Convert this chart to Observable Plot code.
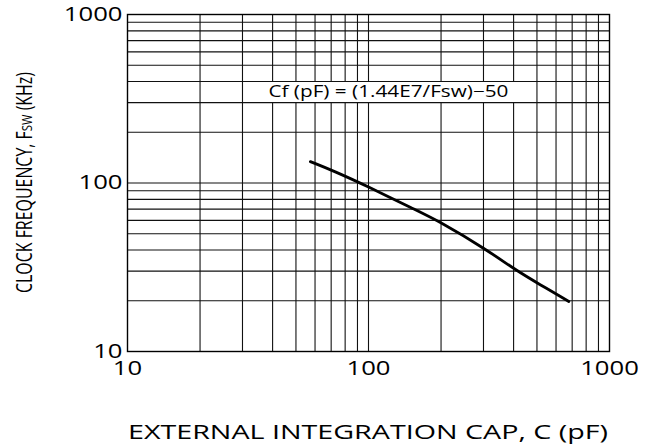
<!DOCTYPE html>
<html>
<head>
<meta charset="utf-8">
<script src="https://cdn.jsdelivr.net/npm/d3@7"></script>
<script src="https://cdn.jsdelivr.net/npm/@observablehq/plot@0.6"></script>
<style>
  html, body { margin: 0; padding: 0; background: #fff; }
</style>
</head>
<body>
<script>
// Curve
const capPF   = [57.4, 71.4, 100, 154, 200, 306, 414, 509, 678];
const freqKHz = [134, 118.3, 95, 70, 58.5, 40.6, 30, 25.2, 19.8];

// Grid and tick values
const xGrid = [20, 30, 40, 50, 60, 70, 80, 90, 100, 200, 300, 400, 500, 600, 700, 800, 900];
const yGrid = [20, 30, 40, 50, 60, 70, 80, 90, 100, 200, 300, 400, 500, 600, 700, 800, 900];
const xTicks = [10, 100, 1000];
const yTicks = [10, 100, 1000];

// Texts
const xTitle = "EXTERNAL INTEGRATION CAP, C (pF)";
const yTitleA = "CLOCK FREQUENCY, F";
const yTitleB = "sw";
const yTitleC = " (KHz)";
const noteText = ["Cf (pF) = (1.44E7/Fsw)\u221250"];
const noteX = [121];
const noteY = [349];

const curve = capPF.map((c, i) => ({c, f: freqKHz[i]}));
const note = noteText.map((t, i) => ({t, x: noteX[i], y: noteY[i]}));

const chart = Plot.plot({
  width: 653,
  height: 448,
  marginLeft: 127,
  marginRight: 44,
  marginTop: 14,
  marginBottom: 97,
  style: {fontFamily: "'Open Sans', sans-serif", fontSize: "19.6px", color: "#000", background: "#fff"},
  x: {type: "log", domain: [10, 1000]},
  y: {type: "log", domain: [10, 1000]},
  marks: [
    Plot.ruleX(xGrid, {stroke: "#111", strokeWidth: 1.1}),
    Plot.ruleY(yGrid, {stroke: "#111", strokeWidth: 1.1}),
    Plot.frame({stroke: "#000", strokeWidth: 1.4}),
    Plot.text(note, {x: "x", y: "y", text: "t", fontSize: 15.5, fill: "#000", textAnchor: "middle"}),
    Plot.line(curve, {x: "c", y: "f", stroke: "#000", strokeWidth: 2.8, curve: "basis"}),
    Plot.axisX(xTicks, {tickSize: 0, tickPadding: 10, label: null, tickFormat: d => String(d)}),
    Plot.axisY(yTicks, {tickSize: 0, tickPadding: 5, label: null, tickFormat: d => String(d)})
  ]
});

document.body.append(chart);
const svg = d3.select(chart);

// Horizontally stretched tick labels
svg.selectAll('g[aria-label="x-axis tick label"] text, g[aria-label="y-axis tick label"] text').each(function() {
  const len = this.getComputedTextLength();
  this.setAttribute("textLength", len * 1.31);
  this.setAttribute("lengthAdjust", "spacingAndGlyphs");
});

// Note text width and white box behind it
svg.selectAll('g[aria-label="text"] text').each(function() {
  this.setAttribute("textLength", 240);
  this.setAttribute("lengthAdjust", "spacingAndGlyphs");
});
const noteG = svg.select('g[aria-label="text"]').node();
const bb = noteG.getBBox();
const cx = bb.x + bb.width / 2;
svg.insert("rect", 'g[aria-label="text"]')
  .attr("x", cx - 126)
  .attr("y", 82)
  .attr("width", 253)
  .attr("height", 20)
  .attr("fill", "#fff");

// Axis titles
svg.append("text")
  .attr("x", 368)
  .attr("y", 439)
  .attr("text-anchor", "middle")
  .attr("font-size", 19.6)
  .attr("textLength", 480)
  .attr("lengthAdjust", "spacingAndGlyphs")
  .attr("fill", "#000")
  .text(xTitle);

const yt = svg.append("text")
  .attr("transform", "translate(32,182.5) rotate(-90)")
  .attr("text-anchor", "middle")
  .attr("font-size", 21)
  .attr("textLength", 221)
  .attr("lengthAdjust", "spacingAndGlyphs")
  .attr("fill", "#000");
yt.append("tspan").text(yTitleA);
yt.append("tspan").style("font-variant-caps", "all-small-caps").text(yTitleB.toUpperCase());
yt.append("tspan").text(yTitleC);
</script>
</body>
</html>
